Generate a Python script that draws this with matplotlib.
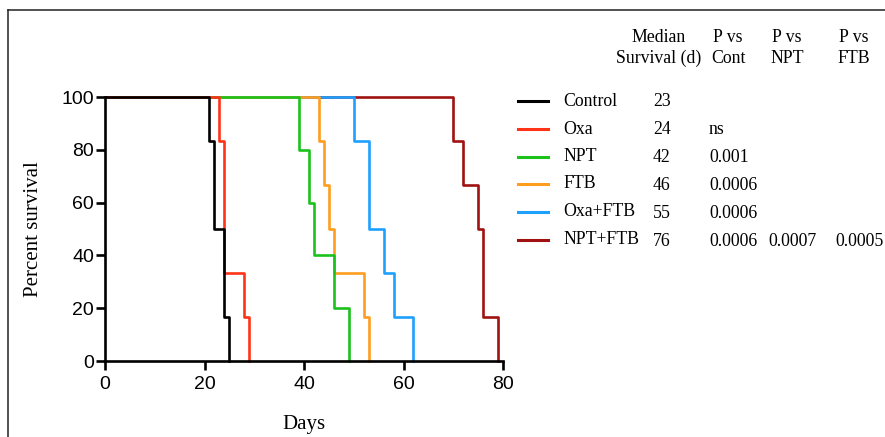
import matplotlib
matplotlib.use('Agg')
import matplotlib.pyplot as plt
from matplotlib.lines import Line2D

# Kaplan-Meier step data (days, percent survival)
groups = ['Control', 'Oxa', 'NPT', 'FTB', 'Oxa+FTB', 'NPT+FTB']
colors = ['#000000', '#ff3318', '#1cc21c', '#ff9d1e', '#1ea0ff', '#a01212']

control_days = [0, 21, 22, 24, 25]
control_surv = [100, 83.3, 50, 16.7, 0]
oxa_days = [0, 23, 24, 28, 29]
oxa_surv = [100, 83.3, 33.3, 16.7, 0]
npt_days = [0, 39, 41, 42, 46, 49]
npt_surv = [100, 80, 60, 40, 20, 0]
ftb_days = [0, 43, 44, 45, 46, 52, 53]
ftb_surv = [100, 83.3, 66.7, 50, 33.3, 16.7, 0]
oxaftb_days = [0, 50, 53, 56, 58, 62]
oxaftb_surv = [100, 83.3, 50, 33.3, 16.7, 0]
nptftb_days = [0, 70, 72, 75, 76, 79]
nptftb_surv = [100, 83.3, 66.7, 50, 16.7, 0]

median_surv = ['23', '24', '42', '46', '55', '76']
p_vs_cont = ['', 'ns', '0.001', '0.0006', '0.0006', '0.0006']
p_vs_npt = ['', '', '', '', '', '0.0007']
p_vs_ftb = ['', '', '', '', '', '0.0005']

series = [(control_days, control_surv), (oxa_days, oxa_surv), (npt_days, npt_surv),
          (ftb_days, ftb_surv), (oxaftb_days, oxaftb_surv), (nptftb_days, nptftb_surv)]

W, H = 885, 437
fig = plt.figure(figsize=(W / 100, H / 100), dpi=100)
ax = fig.add_axes([105 / W, 1 - 361 / H, 398 / W, 264 / H])


def fx(px):
    return px / W


def fy(py):
    return 1 - py / H


for i, ((d, s), c) in enumerate(zip(series, colors)):
    ax.step(d, s, where='post', color=c, lw=1.9, clip_on=False, zorder=10 - i)

ax.set_xlim(0, 80)
ax.set_ylim(0, 100)
ax.set_xticks([0, 20, 40, 60, 80])
ax.set_yticks([0, 20, 40, 60, 80, 100])
for sp in ['top', 'right']:
    ax.spines[sp].set_visible(False)
for sp in ['left', 'bottom']:
    ax.spines[sp].set_linewidth(1.9)
    ax.spines[sp].set_zorder(20)
ax.tick_params(direction='out', length=6.5, width=1.9, pad=1.5, labelsize=14)
ax.tick_params(axis='x', pad=4.5)
for lab in ax.get_xticklabels() + ax.get_yticklabels():
    lab.set_fontfamily('Liberation Sans')

ax.set_xlabel('Days', fontfamily='Liberation Serif', fontsize=15, labelpad=16)
ax.set_ylabel('Percent survival', fontfamily='Liberation Serif', fontsize=15, labelpad=13)

serif = dict(fontfamily='Liberation Serif', fontsize=12.8)

# table header
fig.text(fx(659), fy(48), 'Median\nSurvival (d)', ha='center', va='center', linespacing=1.25, **serif)
fig.text(fx(728), fy(48), 'P vs\nCont', ha='center', va='center', linespacing=1.25, **serif)
fig.text(fx(787), fy(48), 'P vs\nNPT', ha='center', va='center', linespacing=1.25, **serif)
fig.text(fx(854), fy(48), 'P vs\nFTB', ha='center', va='center', linespacing=1.25, **serif)

# legend rows
row_y = [101, 129, 156.5, 184, 212, 240]
for i, g in enumerate(groups):
    y = row_y[i]
    fig.add_artist(Line2D([fx(518), fx(548)], [fy(y), fy(y)], color=colors[i], lw=2.2))
    fig.text(fx(563), fy(y), g, ha='left', va='center', **serif)
    fig.text(fx(653), fy(y + 1), median_surv[i], ha='left', va='center', **serif)
    fig.text(fx(709), fy(y + 1), p_vs_cont[i], ha='left', va='center', **serif)
    fig.text(fx(768), fy(y + 1), p_vs_npt[i], ha='left', va='center', **serif)
    fig.text(fx(835), fy(y + 1), p_vs_ftb[i], ha='left', va='center', **serif)

# frame lines at top and left
fig.add_artist(Line2D([fx(7.5), 1], [fy(10), fy(10)], color='#222222', lw=1.1))
fig.add_artist(Line2D([fx(7.5), fx(7.5)], [fy(10), 0], color='#222222', lw=1.1))

fig.savefig('out.png', dpi=100, facecolor='white')
